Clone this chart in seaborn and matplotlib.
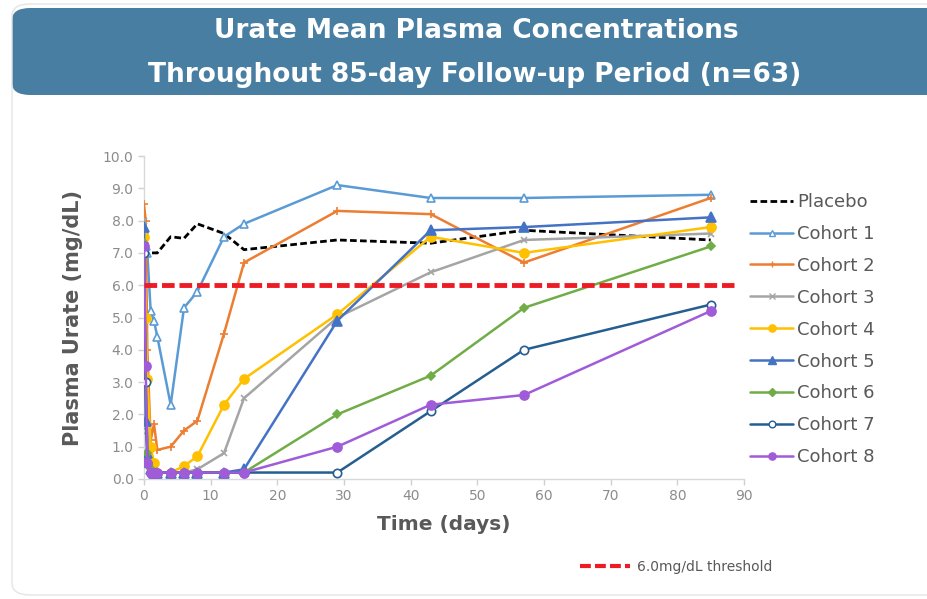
import matplotlib
matplotlib.use("Agg")
import matplotlib.pyplot as plt
from matplotlib.patches import FancyBboxPatch
from matplotlib.lines import Line2D
import pandas as pd
import seaborn as sns

# sampling days (same grid for every group)
days = [0, 0.25, 0.5, 1, 1.5, 2, 4, 6, 8, 12, 15, 29, 43, 57, 85]

placebo = [6.9, 6.9, 7.0, 7.0, 7.0, 7.0, 7.5, 7.45, 7.9, 7.6, 7.1, 7.4, 7.3, 7.7, 7.4]
cohort1 = [7.7, 7.2, 7.0, 5.2, 4.9, 4.4, 2.3, 5.3, 5.8, 7.5, 7.9, 9.1, 8.7, 8.7, 8.8]
cohort2 = [8.5, 8.0, 4.0, 1.2, 1.7, 0.9, 1.0, 1.5, 1.8, 4.5, 6.7, 8.3, 8.2, 6.7, 8.7]
cohort3 = [8.0, 5.0, 1.5, 0.5, 0.3, 0.2, 0.2, 0.2, 0.3, 0.8, 2.5, 5.0, 6.4, 7.4, 7.6]
cohort4 = [7.5, 5.0, 3.1, 1.0, 0.5, 0.2, 0.2, 0.4, 0.7, 2.3, 3.1, 5.1, 7.5, 7.0, 7.8]
cohort5 = [7.8, 1.8, 0.8, 0.3, 0.2, 0.2, 0.2, 0.2, 0.2, 0.2, 0.3, 4.9, 7.7, 7.8, 8.1]
cohort6 = [7.3, 3.0, 0.8, 0.3, 0.2, 0.2, 0.2, 0.2, 0.2, 0.2, 0.2, 2.0, 3.2, 5.3, 7.2]
cohort7 = [7.0, 3.0, 0.5, 0.2, 0.2, 0.2, 0.2, 0.2, 0.2, 0.2, 0.2, 0.2, 2.1, 4.0, 5.4]
cohort8 = [7.2, 3.5, 0.5, 0.2, 0.2, 0.2, 0.2, 0.2, 0.2, 0.2, 0.2, 1.0, 2.3, 2.6, 5.2]

threshold = 6.0
threshold_end = 88.5

labels = ["Placebo", "Cohort 1", "Cohort 2", "Cohort 3", "Cohort 4",
          "Cohort 5", "Cohort 6", "Cohort 7", "Cohort 8"]
series = [placebo, cohort1, cohort2, cohort3, cohort4,
          cohort5, cohort6, cohort7, cohort8]

colors = ["#000000", "#5B9BD5", "#ED7D31", "#A5A5A5", "#FFC000",
          "#4472C4", "#70AD47", "#255E91", "#A05CD8"]
styles = [
    dict(marker=None, dashes=(2.4, 1.2), lw=2.0),
    dict(marker="^", mfc="white", ms=6),
    dict(marker="+", ms=6),
    dict(marker="x", ms=5),
    dict(marker="o", ms=6.5),
    dict(marker="^", ms=6.5),
    dict(marker="D", ms=4.5),
    dict(marker="o", mfc="white", ms=6),
    dict(marker="o", ms=6.5),
]

sns.set_theme(style="white")
plt.rcParams["font.family"] = ["DejaVu Sans"]

fig = plt.figure(figsize=(9.27, 5.99), dpi=100)
W, H = 927, 599

# header banner
fig.patches.append(FancyBboxPatch((12 / W, 1 - 95 / H), 960 / W, 87 / H,
                                  boxstyle="round,pad=0,rounding_size=0.02",
                                  transform=fig.transFigure, facecolor="#477EA2",
                                  edgecolor="none", zorder=0))
fig.patches.append(FancyBboxPatch((12 / W, 4 / H), 960 / W, 1 - 8 / H,
                                  boxstyle="round,pad=0,rounding_size=0.02",
                                  transform=fig.transFigure, facecolor="none",
                                  edgecolor="#e4e4e4", lw=1, zorder=0))
fig.text(476 / W, 1 - 31 / H, "Urate Mean Plasma Concentrations", color="white",
         fontsize=19, fontweight="bold", ha="center", va="center")
fig.text(475 / W, 1 - 75 / H, "Throughout 85-day Follow-up Period (n=63)", color="white",
         fontsize=19, fontweight="bold", ha="center", va="center")

ax = fig.add_axes([144 / W, 1 - 479 / H, 600 / W, 323 / H])

handles = []
for lab, vals, col, st in zip(labels, series, colors, styles):
    df = pd.DataFrame({"day": days, "urate": vals})
    kw = dict(color=col, lw=st.get("lw", 1.8), ax=ax, zorder=3)
    if st["marker"]:
        kw.update(marker=st["marker"], markersize=st["ms"],
                  markerfacecolor=st.get("mfc", col), markeredgecolor=col,
                  markeredgewidth=1.2)
    else:
        kw.update(dashes=st["dashes"])
    sns.lineplot(data=df, x="day", y="urate", **kw)
    h = Line2D([], [], color=col, lw=kw["lw"], marker=st["marker"],
               markersize=st.get("ms", 0) * 0.8,
               markerfacecolor=st.get("mfc", col), markeredgecolor=col)
    if not st["marker"]:
        h.set_dashes(st["dashes"])
    handles.append(h)

thr_df = pd.DataFrame({"day": [0, threshold_end], "urate": [threshold, threshold]})
sns.lineplot(data=thr_df, x="day", y="urate", color="#EE1B24", lw=3.5,
             dashes=(2.6, 1.0), ax=ax, zorder=5)
thr_handle = Line2D([], [], color="#EE1B24", lw=3.0, dashes=(2.6, 1.0))

ax.set_xlim(0, 90)
ax.set_ylim(0, 10)
ax.set_xticks(range(0, 91, 10))
ax.set_yticks([i * 1.0 for i in range(11)])
ax.set_yticklabels([f"{i:.1f}" for i in range(11)])
ax.tick_params(axis="both", colors="#d0d0d0", labelcolor="#8c8c8c", labelsize=10,
               length=4, width=1, direction="out", left=True, bottom=True)
for side in ["top", "right"]:
    ax.spines[side].set_visible(False)
for side in ["left", "bottom"]:
    ax.spines[side].set_color("#d9d9d9")
    ax.spines[side].set_linewidth(1)

ax.set_xlabel("Time (days)", fontsize=14.5, fontweight="bold", color="#595959", labelpad=8)
ax.set_ylabel("Plasma Urate (mg/dL)", fontsize=15, fontweight="bold", color="#595959", labelpad=14)

fig.legend(handles=handles, labels=labels, loc="upper left",
           bbox_to_anchor=(750 / W, 1 - 193 / H), frameon=False, fontsize=13,
           handlelength=2.4, handletextpad=0.2, labelspacing=0.77,
           borderpad=0, borderaxespad=0, labelcolor="#595959")

fig.legend(handles=[thr_handle], labels=["6.0mg/dL threshold"], loc="center left",
           bbox_to_anchor=(580 / W, 1 - 567 / H), frameon=False, fontsize=10,
           handlelength=3.6, handletextpad=0.5, borderpad=0, borderaxespad=0,
           labelcolor="#595959")

fig.savefig("out.png", dpi=100, facecolor="white")
